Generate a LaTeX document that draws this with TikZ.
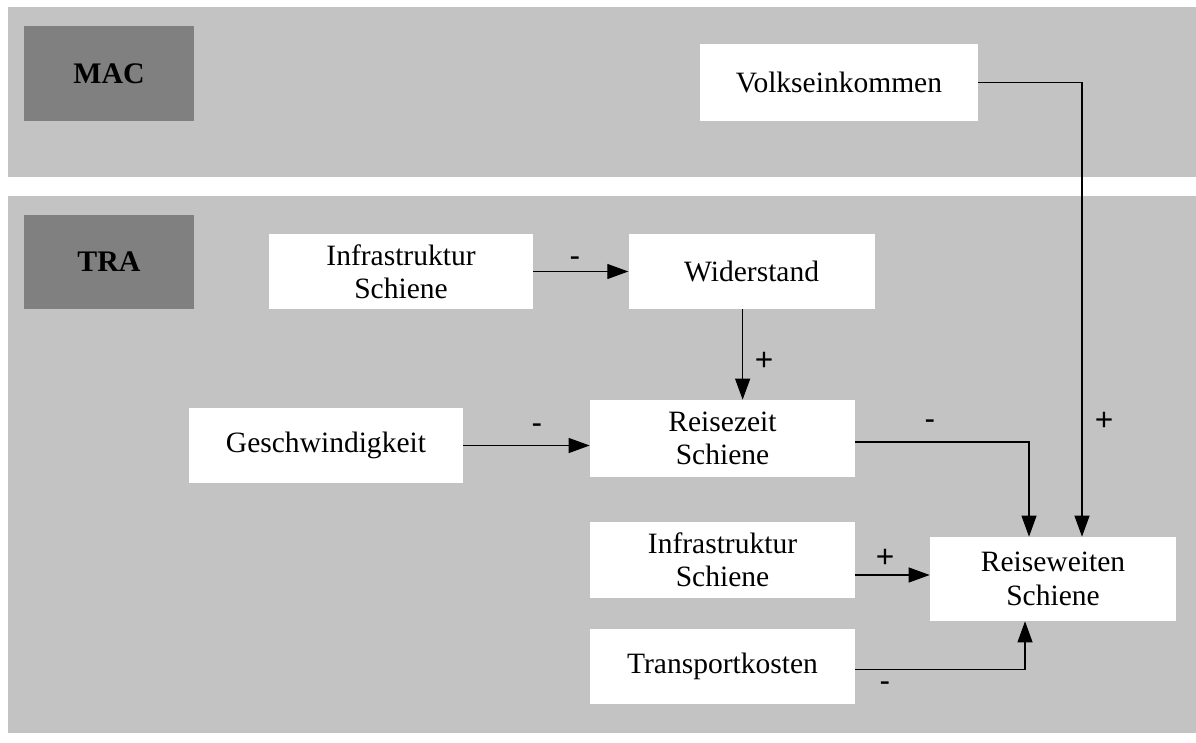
\documentclass[tikz,border=0pt]{standalone}
\usepackage{fontspec}
\setmainfont{Liberation Serif}
\newfontfamily\zeichenfont{Liberation Sans}
\usetikzlibrary{positioning,calc,arrows.meta}
\definecolor{bandgrau}{HTML}{C3C3C3}
\definecolor{ebenegrau}{HTML}{808080}

\begin{document}
\begin{tikzpicture}[x=0.02cm, y=-0.02cm,
    kasten/.style={fill=white, inner sep=0pt, minimum height=1.5cm, align=center, font=\fontsize{16.8}{19}\selectfont},
    ebene/.style={fill=ebenegrau, inner sep=0pt, minimum width=3.4cm, minimum height=1.9cm, font=\fontsize{17}{19}\selectfont\bfseries},
    pfeil/.style={-{Triangle[length=0.42cm, width=0.3cm]}, line width=0.6pt},
    zeichen/.style={inner sep=1pt, font=\fontsize{18}{20}\zeichenfont}]
      \useasboundingbox (0,0) rectangle (1196,743);
      % die beiden Ebenen
      \fill[bandgrau] (8,7) rectangle (1196,177);
      \fill[bandgrau] (8,196) rectangle (1196,733);
      \node[ebene] (mac) at (109,73.5) {MAC};
      \node[ebene] (tra) at (109,262) {TRA};
      % Groessen
      \node[kasten, minimum width=5.56cm, minimum height=1.54cm] (volkseinkommen) at (839,82.5) {Volkseinkommen};
      \node[kasten, minimum width=5.28cm] (infrastruktur) at (401,271.5) {Infrastruktur\\Schiene};
      \node[kasten, right=1.9cm of infrastruktur, minimum width=4.92cm] (widerstand) {Widerstand};
      \node[kasten, minimum width=5.3cm, minimum height=1.54cm] (reisezeit) at (722.5,438.5) {Reisezeit\\Schiene};
      \node[kasten, minimum width=5.48cm] (geschwindigkeit) at (326,445.5) {Geschwindigkeit};
      \node[kasten, minimum width=5.3cm, minimum height=1.52cm] (infraschiene) at (722.5,560) {Infrastruktur\\Schiene};
      \node[kasten, below=0.6cm of infraschiene, minimum width=5.3cm] (transportkosten) {Transportkosten};
      \node[kasten, minimum width=4.92cm, minimum height=1.68cm] (reiseweiten) at (1053,579) {Reiseweiten\\Schiene};
      % Wirkungen
      \draw[pfeil] (infrastruktur) -- (widerstand);
      \draw[pfeil] ([xshift=-0.18cm]widerstand.south) -- ([xshift=-0.18cm]widerstand.south |- reisezeit.north);
      \draw[pfeil] (geschwindigkeit) -- (geschwindigkeit -| reisezeit.west);
      \draw[pfeil] ([yshift=-0.07cm]reisezeit.east) -| ([xshift=-0.48cm]reiseweiten.north);
      \draw[pfeil] (volkseinkommen.east) -| ([xshift=0.58cm]reiseweiten.north);
      \draw[pfeil] ([yshift=-0.3cm]infraschiene.east) -- ([yshift=-0.3cm]infraschiene.east -| reiseweiten.west);
      \draw[pfeil] ([yshift=-0.07cm]transportkosten.east) -| ([xshift=-0.56cm]reiseweiten.south);
      % Vorzeichen
      \node[zeichen] (v1) at (575,262) {-};
      \node[zeichen] (v2) at (764,361) {+};
      \node[zeichen] (v3) at (537,429) {-};
      \node[zeichen] (v4) at (930,425) {-};
      \node[zeichen] (v5) at (1104,421) {+};
      \node[zeichen] (v6) at (885,558) {+};
      \node[zeichen] (v7) at (885,687) {-};
    \end{tikzpicture}
\end{document}
